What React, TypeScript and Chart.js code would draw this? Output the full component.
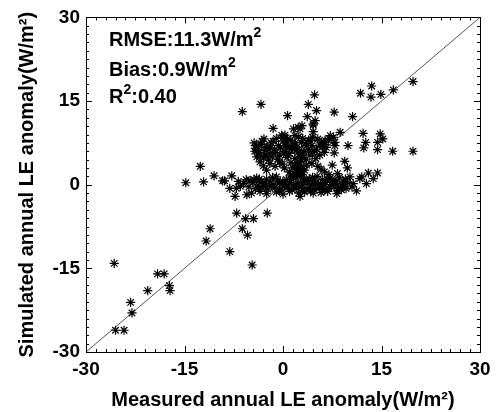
import React, { useEffect, useRef } from 'react';
import { Chart, registerables } from 'chart.js';

Chart.register(...registerables);

const FONT = "'Liberation Sans', Arial, Helvetica, sans-serif";

// Measured (x) and simulated (y) annual LE anomaly, W/m2
const measured = [
  // lower-left tail
  -25.7, -25.5, -24.2, -23.2, -23.0, -20.6, -19.1, -18.1, -17.3, -17.2, -11.7, -11.1, -8.1, -6.2, -5.4, -4.7, -7.05, -5.7, -4.5, -2.4,
  // left sparse
  -14.8, -12.6, -12.1, -10.5, -9.2, -8.9, -7.8, -8.1, -7.1, -7.3, -5.5, -6.2, -3.35,
  // upper sparse
  0.7, 3.85, 4.8, 5.1, 7.8, 10.6, 3.7, 4.9, 4.6, 4.6, 4.5, 2.6, -1.5, 1.6, 2.3, 2.9, 4.6, 0.3, 1.8, 0.0,
  // diagonal and right
  6.9, 7.2, 7.7, 8.7, 7.9, 7.9, 9.9, 7.8, 9.4, 9.8, 8.3, 12.2, 12.6, 12.3, 14.8, 14.4, 15.2, 14.4, 16.7, 19.8,
  13.0, 14.4, 13.75, 12.0, 11.2, 10.2, 10.5, 8.9, 8.1, 12.7, 19.8, 13.5, 11.8, 13.4, 14.9, 16.8, 10.7, 9.2, 11.7,
  5.8, 6.4, 7.0, 6.2,
  // upper cluster
  -4.0, -3.2, -2.5, -1.8, -0.7, 0.0, 0.55, 1.2, 2.1, 2.8, 3.6, 4.2, 5.1, 5.6, 6.6, -1.0, 1.5, 3.0,
  -4.3, -3.5, -2.8, -2.0, -1.3, -0.5, 0.3, 1.0, 1.7, 2.6, 3.2, 4.1, 4.8, 5.6, 6.3, -3.0, -1.6, 0.6, 3.5, 5.0, -2.3, 0.9, 2.2, 4.5,
  -4.0, -3.5, -2.0, -0.5, -2.5, 1.0, 2.1, 3.6, -1.2, 0.2, -3.0, 1.8, 2.3, 2.1, 1.6, 2.8, 4.4, 5.3, -0.1, 1.2, -4.4, -4.2,
  -3.8, -3.3, -2.6, -1.9, -1.1, -0.4, 0.4, 0.8, 1.4, 1.9, 2.5, 3.0, 3.4, 3.9, 4.4, -2.2, -0.8, 0.1, 2.9, -3.6,
  -1.5, 0.7, 2.4, 3.9, 5.3, 6.0, -0.2, -2.9,
  // lower band
  -4.0, -2.5, -1.0, 0.5, 1.9, 3.2, 4.5, 6.0, 7.2, -5.0, -3.3, 2.6, 5.2, 8.6, 9.5,
  -6.0, -4.6, -3.8, -2.9, -2.0, -1.5, -0.5, 0.2, 1.0, 1.6, 2.3, 3.0, 3.7, 4.3, 5.0, 5.7, 6.5, 7.3, 8.0, 9.0, 9.8,
  -5.2, -4.2, -3.2, -2.3, -1.2, -0.3, 0.6, 1.4, 2.0, 2.8, 3.5, 4.0, 4.8, 5.5, 6.2, 7.0, 7.8, 8.5, 9.6,
  -4.8, -3.5, -2.5, -1.0, 0.0, 1.0, 2.4, 2.6, 3.3, 4.6, 5.8, 6.8, 8.2, -6.5, -6.8,
  -4.4, -3.6, -2.7, -1.8, -0.8, 0.0, 0.8, 1.3, 2.1, 3.5, 4.0, 4.7, 5.4, 6.3, 6.7, 7.6, 8.3, -5.6, -0.5, 3.0,
  4.2, 1.1, -1.6, 9.3,
  // stream between bands
  1.8, 2.4, 2.9, 3.3, 1.5, 2.7, 6.3, 7.0, 5.8, 7.5, 2.0, 2.6, 3.0, 2.2,
];

const simulated = [
  -14.1, -26.1, -26.1, -21.1, -23.0, -19.0, -16.0, -16.0, -18.1, -19.0, -10.1, -7.9, -12.0, -7.9, -9.05, -14.4, -5.1, -6.1, -6.1, -5.1,
  0.35, 3.3, 0.5, 1.6, 0.7, 0.7, 1.6, -0.65, -0.65, -2.1, -1.8, 13.1, 14.4,
  12.4, 14.4, 16.1, 13.3, 13.0, 12.2, 12.2, 11.5, 10.7, 9.5, 8.5, 10.0, 10.1, 10.0, 10.3, 10.6, 10.9, 8.9, 8.8, 8.5,
  7.9, 8.8, 8.5, 9.4, 7.6, 7.0, 7.0, 5.7, 4.2, 3.0, 2.0, 9.2, 7.6, 6.6, 9.1, 7.6, 8.2, 6.3, 6.0, 6.0,
  2.1, 2.1, 1.1, 1.4, -1.1, 1.4, -0.4, -0.9, 0.65, 0.2, 18.5, 17.7, 16.4, 15.7, 16.2, 17.0, 0.2, 0.5, 1.1,
  7.6, 8.0, 8.3, 7.2,
  7.0, 7.8, 6.7, 7.5, 7.0, 7.8, 7.3, 8.0, 6.7, 7.6, 7.0, 7.9, 6.4, 7.3, 6.7, 8.3, 7.1, 8.3,
  6.0, 5.3, 6.2, 5.6, 6.3, 5.3, 6.0, 5.6, 6.3, 5.0, 6.0, 5.3, 6.0, 5.3, 5.8, 4.8, 5.0, 4.9, 4.6, 4.7, 6.8, 6.6, 5.7, 5.8,
  5.0, 4.1, 3.8, 4.1, 2.6, 2.3, 2.9, 3.5, 3.3, 3.0, 3.4, 4.7, 3.5, 2.3, 1.4, 4.2, 3.8, 3.3, 3.7, 3.9, 7.5, 6.5,
  6.3, 7.2, 5.2, 6.6, 5.8, 6.6, 7.0, 5.2, 6.5, 7.5, 6.1, 5.4, 7.3, 6.3, 7.0, 4.4, 4.6, 5.6, 4.9, 5.7,
  7.8, 8.2, 8.6, 8.0, 8.2, 6.8, 8.9, 8.2,
  1.2, 1.0, 1.4, 0.9, 1.3, 1.0, 1.3, 0.9, 1.2, 0.8, 0.5, 1.6, 1.5, 1.3, 1.0,
  0.2, 0.4, -0.1, 0.2, 0.5, 0.0, 0.3, 0.0, 0.4, -0.1, 0.3, 0.1, 0.5, 0.0, 0.3, 0.1, 0.4, 0.0, 0.3, 0.1, 0.4,
  -0.4, -0.7, -0.5, -0.8, -0.5, -0.8, -0.5, -0.9, -0.6, -0.4, -0.8, -0.5, -0.9, -0.6, -0.3, -0.7, -0.4, -0.5, -0.7,
  -1.5, -1.2, -1.6, -1.3, -1.7, -1.2, -1.5, -2.1, -1.3, -1.5, -1.4, -1.2, -1.6, -0.3, 0.6,
  0.9, 1.0, -0.2, -0.3, 0.7, 0.6, -0.2, 1.0, -0.2, 0.8, 1.1, 0.6, -0.2, -0.9, 1.0, 0.7, -1.0, 0.9, -1.1, -1.0,
  -1.1, 1.6, 1.3, -0.3,
  1.9, 2.6, 1.8, 2.6, 3.0, 3.2, 2.3, 1.8, 2.8, 3.5, 3.9, 2.1, 2.9, 1.6,
];

const oneToOne = [-30, 30];
const axisMin = -30;
const axisMax = 30;
const majorStep = 15;
const minorStep = 1.5;

const xTitle = 'Measured annual LE anomaly(W/m²)';
const yTitle = 'Simulated annual LE anomaly(W/m²)';
const statMain = ['RMSE:11.3W/m', 'Bias:0.9W/m', 'R'];
const statSup = ['2', '2', '2'];
const statTail = ['', '', ':0.40'];

const framePlugin = {
  id: 'frameTicks',
  afterDatasetsDraw(chart: any) {
    const { ctx, chartArea, scales } = chart;
    const { left, right, top, bottom } = chartArea;
    const xs = scales.x;
    const ys = scales.y;
    ctx.save();
    ctx.strokeStyle = '#000';
    ctx.lineWidth = 1;
    ctx.strokeRect(Math.round(left) + 0.5, Math.round(top) + 0.5, Math.round(right - left), Math.round(bottom - top));
    ctx.beginPath();
    const n = Math.round((axisMax - axisMin) / minorStep);
    for (let i = 0; i <= n; i++) {
      const v = axisMin + i * minorStep;
      const isMajor = Math.abs(v / majorStep - Math.round(v / majorStep)) < 1e-6;
      const len = isMajor ? 6 : 3;
      const px = Math.round(xs.getPixelForValue(v)) + 0.5;
      ctx.moveTo(px, bottom);
      ctx.lineTo(px, bottom - len);
      ctx.moveTo(px, top);
      ctx.lineTo(px, top + len);
      const py = Math.round(ys.getPixelForValue(v)) + 0.5;
      ctx.moveTo(left, py);
      ctx.lineTo(left + len, py);
      ctx.moveTo(right, py);
      ctx.lineTo(right - len, py);
    }
    ctx.stroke();

    // statistics text
    ctx.fillStyle = '#000';
    ctx.textBaseline = 'alphabetic';
    ctx.textAlign = 'left';
    const baseX = left + 23;
    const baselines = [top + 29, top + 59, top + 86];
    for (let i = 0; i < statMain.length; i++) {
      let x = baseX;
      const y = baselines[i];
      ctx.font = `bold 20px ${FONT}`;
      ctx.fillText(statMain[i], x, y);
      x += ctx.measureText(statMain[i]).width;
      ctx.font = `bold 14px ${FONT}`;
      ctx.fillText(statSup[i], x, y - 9);
      x += ctx.measureText(statSup[i]).width;
      if (statTail[i]) {
        ctx.font = `bold 20px ${FONT}`;
        ctx.fillText(statTail[i], x, y);
      }
    }
    ctx.restore();
  },
};

export default function App() {
  const ref = useRef<HTMLCanvasElement | null>(null);

  useEffect(() => {
    if (!ref.current) return;
    const points = measured.map((m, i) => ({ x: m, y: simulated[i] }));
    const chart = new Chart(ref.current, {
      type: 'scatter',
      data: {
        datasets: [
          {
            type: 'scatter',
            data: points,
            pointStyle: 'star',
            pointRadius: 4.6,
            borderColor: '#000',
            backgroundColor: '#000',
            borderWidth: 1.2,
            order: 0,
          } as any,
          {
            type: 'line',
            data: oneToOne.map((v) => ({ x: v, y: v })),
            borderColor: '#555',
            borderWidth: 1,
            pointRadius: 0,
            order: 1,
          } as any,
        ],
      },
      options: {
        responsive: false,
        animation: false,
        events: [],
        layout: { padding: { top: 14, right: 17, left: 0, bottom: 0 } },
        plugins: { legend: { display: false }, tooltip: { enabled: false } },
        scales: {
          x: {
            type: 'linear',
            min: axisMin,
            max: axisMax,
            grid: { display: false, drawTicks: false },
            border: { display: false },
            ticks: {
              stepSize: majorStep,
              color: '#000',
              padding: 6,
              maxRotation: 0,
              font: { family: FONT, size: 19, weight: 'bold' },
            },
            title: {
              display: true,
              text: xTitle,
              color: '#000',
              padding: { top: 3, bottom: 0 },
              font: { family: FONT, size: 20, weight: 'bold' },
            },
            afterFit: (s: any) => {
              s.height = 60;
            },
          },
          y: {
            type: 'linear',
            min: axisMin,
            max: axisMax,
            grid: { display: false, drawTicks: false },
            border: { display: false },
            ticks: {
              stepSize: majorStep,
              color: '#000',
              padding: 6,
              font: { family: FONT, size: 19, weight: 'bold' },
            },
            title: {
              display: true,
              text: yTitle,
              color: '#000',
              padding: { top: 15, bottom: 0 },
              font: { family: FONT, size: 20, weight: 'bold' },
            },
            afterFit: (s: any) => {
              s.width = 86;
            },
          },
        },
      },
      plugins: [framePlugin],
    });
    return () => chart.destroy();
  }, []);

  return (
    <div style={{ position: 'fixed', left: 0, top: 0, width: 497, height: 412, background: '#fff' }}>
      <canvas ref={ref} width={497} height={412} style={{ display: 'block' }} />
    </div>
  );
}
